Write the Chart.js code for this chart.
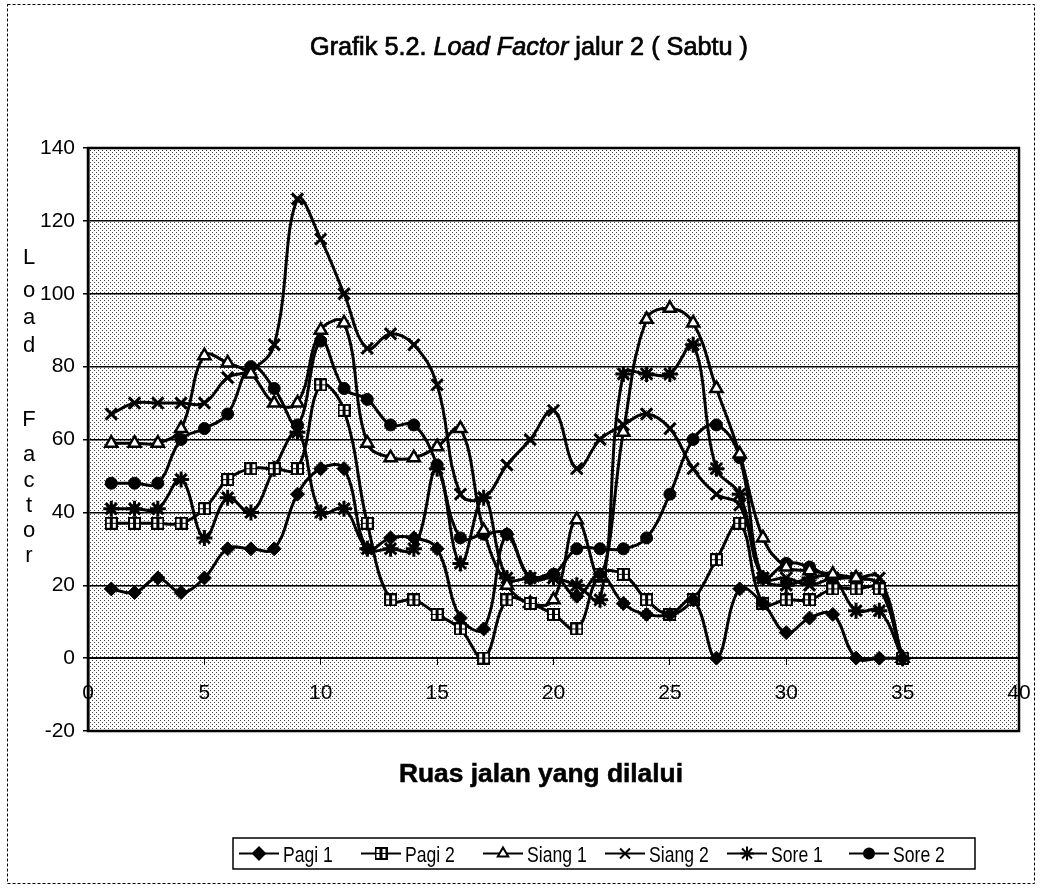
<!DOCTYPE html>
<html>
<head>
<meta charset="utf-8">
<script src="https://cdn.jsdelivr.net/npm/chart.js@4.4.1/dist/chart.umd.min.js"></script>
<style>
body { margin: 0; background: #fff; }
#grafik { display: block; }
</style>
</head>
<body>
<canvas id="grafik" width="1040" height="889"></canvas>
<script>
// data hasil baca dari grafik
var ruas = [1,2,3,4,5,6,7,8,9,10,11,12,13,14,15,16,17,18,19,20,21,22,23,24,25,26,27,28,29,30,31,32,33,34,35];
var pagi1  = [19,18,22,18,22,30,30,30,45,52,52,30,33,33,30,11,8,34,22,23,17,23,15,12,12,16,0,19,15,7,11,12,0,0,0];
var pagi2  = [37,37,37,37,41,49,52,52,52,75,68,37,16,16,12,8,0,16,15,12,8,23,23,16,12,16,27,37,15,16,16,19,19,19,0];
var siang1 = [59,59,59,63,83,81,78,70,70,90,92,59,55,55,58,63,35,20,15,16,38,22,62,93,96,92,74,56,33,25,24,23,22,20,0];
var siang2 = [67,70,70,70,70,77,79,86,126,115,100,85,89,86,75,45,44,53,60,68,52,60,64,67,63,52,45,42,22,22,20,22,22,22,0];
var sore1  = [41,41,41,49,33,44,40,52,62,40,41,30,30,30,52,26,44,22,22,22,20,16,78,78,78,86,52,45,22,20,22,22,13,13,0];
var sore2  = [48,48,48,60,63,67,80,74,64,87,74,71,64,64,53,33,34,34,22,23,30,30,30,33,45,60,64,55,22,26,25,22,22,20,0];

var namaSeri = ["Pagi 1", "Pagi 2", "Siang 1", "Siang 2", "Sore 1", "Sore 2"];
var tickX = [0, 5, 10, 15, 20, 25, 30, 35, 40];
var tickY = [-20, 0, 20, 40, 60, 80, 100, 120, 140];

var judul = ["Grafik 5.2. ", "Load Factor", " jalur 2 ( Sabtu )"];
var judulX = "Ruas jalan yang dilalui";
var judulY = "Load Factor";

var huruf = "'Liberation Sans', Arial, sans-serif";

// marker kotak berarsir untuk Pagi 2
function titikKotak() {
    var c = document.createElement('canvas');
    c.width = 13; c.height = 13;
    var g = c.getContext('2d');
    g.fillStyle = '#000'; g.fillRect(0, 0, 13, 13);
    g.fillStyle = '#fff'; g.fillRect(2, 2, 9, 9);
    g.fillStyle = '#000'; g.fillRect(5, 2, 3, 9); g.fillRect(2, 6, 9, 1);
    return c;
}

// pola titik-titik latar area plot
function polaTitik(ctx) {
    var c = document.createElement('canvas');
    c.width = 4; c.height = 4;
    var g = c.getContext('2d');
    g.fillStyle = '#fff'; g.fillRect(0, 0, 4, 4);
    g.fillStyle = '#444'; g.fillRect(0, 0, 1, 1); g.fillRect(2, 2, 1, 1);
    return ctx.createPattern(c, 'repeat');
}

var gayaTitik = [
    { pointStyle: 'rectRot', radius: 7, bg: '#000', bw: 1 },
    { pointStyle: titikKotak(), radius: 7, bg: '#000', bw: 1 },
    { pointStyle: 'triangle', radius: 7, bg: '#fff', bw: 2.5 },
    { pointStyle: 'crossRot', radius: 8, bg: '#000', bw: 3 },
    { pointStyle: 'star', radius: 8, bg: '#000', bw: 3 },
    { pointStyle: 'circle', radius: 6, bg: '#000', bw: 1 }
];

var semuaSeri = [pagi1, pagi2, siang1, siang2, sore1, sore2];

function buatDataset() {
    var ds = [];
    for (var i = 0; i < semuaSeri.length; i++) {
        var titik = [];
        for (var j = 0; j < ruas.length; j++) {
            titik.push({ x: ruas[j], y: semuaSeri[i][j] });
        }
        ds.push({
            label: namaSeri[i],
            data: titik,
            borderColor: '#000',
            borderWidth: 3,
            backgroundColor: gayaTitik[i].bg,
            pointStyle: gayaTitik[i].pointStyle,
            pointRadius: gayaTitik[i].radius,
            pointBorderColor: '#000',
            pointBorderWidth: gayaTitik[i].bw,
            tension: 0.4,
            fill: false
        });
    }
    return ds;
}

// tulis teks dengan lebar tertentu (huruf dipersempit)
function tulisPas(ctx, bagian, gaya, tengahX, baseY, lebar, tebal) {
    var total = 0;
    for (var i = 0; i < bagian.length; i++) {
        ctx.font = gaya[i];
        total += ctx.measureText(bagian[i]).width;
    }
    var sx = lebar / total;
    ctx.save();
    ctx.translate(tengahX - lebar / 2, baseY);
    ctx.scale(sx, 1);
    ctx.textAlign = 'left';
    ctx.textBaseline = 'alphabetic';
    ctx.strokeStyle = '#000';
    ctx.lineWidth = tebal || 0;
    var x = 0;
    for (var k = 0; k < bagian.length; k++) {
        ctx.font = gaya[k];
        ctx.fillText(bagian[k], x, 0);
        if (tebal) ctx.strokeText(bagian[k], x, 0);
        x += ctx.measureText(bagian[k]).width;
    }
    ctx.restore();
}

var pluginLatar = {
    id: 'latar',
    beforeDraw: function (chart) {
        var ctx = chart.ctx, a = chart.chartArea;
        ctx.save();
        ctx.fillStyle = '#fff';
        ctx.fillRect(0, 0, chart.width, chart.height);
        ctx.fillStyle = polaTitik(ctx);
        ctx.fillRect(a.left, a.top, a.right - a.left, a.bottom - a.top);
        ctx.restore();
    },
    afterDraw: function (chart) {
        var ctx = chart.ctx, a = chart.chartArea;
        ctx.save();
        // bingkai plot
        ctx.strokeStyle = '#000';
        ctx.lineWidth = 2.5;
        ctx.strokeRect(a.left, a.top, a.right - a.left, a.bottom - a.top);

        // bingkai luar putus-putus
        ctx.lineWidth = 1;
        ctx.setLineDash([3, 2]);
        ctx.strokeRect(7.5, 4.5, 1027, 879);
        ctx.setLineDash([]);

        ctx.fillStyle = '#000';
        // judul
        tulisPas(ctx, judul,
            ['25px ' + huruf, 'italic 25px ' + huruf, '25px ' + huruf],
            529, 55, 438, 0.7);

        // judul sumbu x
        tulisPas(ctx, [judulX], ['bold 25px ' + huruf], 541, 782, 284, 0.5);

        // judul sumbu y, huruf disusun ke bawah
        ctx.font = '22px ' + huruf;
        ctx.textAlign = 'center';
        ctx.textBaseline = 'middle';
        var posY = [258, 291, 318, 346, 0, 420, 455, 481, 506, 531, 556];
        for (var i = 0; i < judulY.length; i++) {
            if (judulY[i] === ' ') continue;
            ctx.fillText(judulY[i], 29, posY[i]);
        }

        // legenda
        var kiri = 233, kanan = 975, atas = 838, bawah = 869;
        ctx.strokeStyle = '#000';
        ctx.lineWidth = 1.5;
        ctx.strokeRect(kiri, atas, kanan - kiri, bawah - atas);
        var tengah = (atas + bawah) / 2;
        var lebarEntri = (kanan - kiri - 10) / namaSeri.length;
        for (var n = 0; n < namaSeri.length; n++) {
            var x0 = kiri + 6 + n * lebarEntri;
            ctx.lineWidth = 2;
            ctx.beginPath();
            ctx.moveTo(x0, tengah);
            ctx.lineTo(x0 + 40, tengah);
            ctx.stroke();
            ctx.fillStyle = gayaTitik[n].bg;
            ctx.strokeStyle = '#000';
            Chart.helpers.drawPoint(ctx, {
                pointStyle: gayaTitik[n].pointStyle,
                radius: gayaTitik[n].radius - 1,
                borderWidth: gayaTitik[n].bw,
                rotation: 0
            }, x0 + 20, tengah);
            ctx.fillStyle = '#000';
            ctx.save();
            ctx.translate(x0 + 44, tengah + 8);
            ctx.scale(0.8, 1);
            ctx.font = '22px ' + huruf;
            ctx.textAlign = 'left';
            ctx.textBaseline = 'alphabetic';
            ctx.fillText(namaSeri[n], 0, 0);
            ctx.restore();
        }
        ctx.restore();
    }
};

var grafik = new Chart(document.getElementById('grafik'), {
    type: 'line',
    data: { datasets: buatDataset() },
    options: {
        responsive: false,
        animation: false,
        devicePixelRatio: 1,
        layout: { padding: { left: 0, right: 21, top: 148, bottom: 158 } },
        plugins: {
            legend: { display: false },
            title: { display: false },
            tooltip: { enabled: false }
        },
        scales: {
            x: {
                type: 'linear',
                position: { y: 0 },
                min: 0, max: 40,
                afterBuildTicks: function (s) {
                    s.ticks = tickX.map(function (v) { return { value: v }; });
                },
                afterFit: function (s) { s.paddingLeft = 0; s.paddingRight = 0; },
                grid: { drawOnChartArea: false, color: '#000', tickLength: 6, tickColor: '#000' },
                border: { color: '#000', width: 2 },
                ticks: { color: '#000', padding: 16, font: { family: huruf, size: 21 }, maxRotation: 0 }
            },
            y: {
                type: 'linear',
                min: -20, max: 140,
                afterBuildTicks: function (s) {
                    s.ticks = tickY.map(function (v) { return { value: v }; });
                },
                afterFit: function (s) { s.width = 88; },
                grid: { color: '#000', lineWidth: 1.5, tickLength: 5, tickColor: '#000' },
                border: { color: '#000', width: 2.5 },
                ticks: { color: '#000', padding: 8, font: { family: huruf, size: 21 } }
            }
        }
    },
    plugins: [pluginLatar]
});
</script>
</body>
</html>
